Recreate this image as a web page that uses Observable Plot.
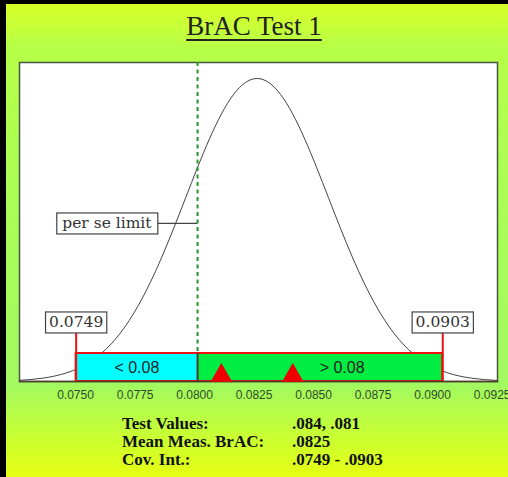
<!DOCTYPE html>
<html>
<head>
<meta charset="utf-8">
<script src="https://cdn.jsdelivr.net/npm/d3@7"></script>
<script src="https://cdn.jsdelivr.net/npm/@observablehq/plot@0.6"></script>
<style>
  html, body { margin: 0; padding: 0; }
  #wrap {
    position: relative; width: 508px; height: 477px; overflow: hidden;
    background: linear-gradient(to bottom, #dcff26 0px, #b6ff48 48px, #aaff55 200px, #a2f960 385px, #c4ff38 430px, #e6ff12 477px);
  }
  #bl { position: absolute; left: 0; top: 0; width: 6px; height: 477px; background: #000; }
  #bt { position: absolute; left: 0; top: 0; width: 508px; height: 4px; background: #000; }
  #title {
    position: absolute; left: 0; top: 11px; width: 508px; text-align: center;
    font-family: "Liberation Serif", "Times New Roman", serif; font-size: 27px;
    color: #222; text-decoration: underline; text-decoration-thickness: 1.5px; text-underline-offset: 4px;
  }
  #chart { position: absolute; left: 0; top: 0; }
  .foot {
    position: absolute; font-family: "Liberation Serif", "Times New Roman", serif;
    font-weight: bold; font-size: 17px; color: #111; white-space: nowrap; line-height: 18px;
  }
</style>
</head>
<body>
<div id="wrap">
  <div id="bl"></div><div id="bt"></div>
  <div id="title"></div>
  <div id="chart"></div>
  <div id="footL" class="foot" style="left:122px; top:415px;"></div>
  <div id="footV" class="foot" style="left:292px; top:415px;"></div>
</div>
<script>
// ---- data ----
const titleText = "BrAC Test 1";
const curveX = [0.0725,0.0730,0.0735,0.0740,0.0745,0.0750,0.0755,0.0760,0.0765,0.0770,0.0775,0.0780,0.0785,0.0790,0.0795,0.0800,0.0805,0.0810,0.0815,0.0820,0.0825,0.0830,0.0835,0.0840,0.0845,0.0850,0.0855,0.0860,0.0865,0.0870,0.0875,0.0880,0.0885,0.0890,0.0895,0.0900,0.0905,0.0910,0.0915,0.0920,0.0925,0.0930];
const curveY = [0.0039,0.0066,0.0111,0.0181,0.0286,0.0439,0.0657,0.0956,0.1353,0.1862,0.2494,0.3247,0.4111,0.5063,0.6065,0.7066,0.8007,0.8825,0.9460,0.9862,1.0000,0.9862,0.9460,0.8825,0.8007,0.7066,0.6065,0.5063,0.4111,0.3247,0.2494,0.1862,0.1353,0.0956,0.0657,0.0439,0.0286,0.0181,0.0111,0.0066,0.0039,0.0022];
const perSeLimit = 0.08;
const perSeLabel = "per se limit";
const covLow = 0.0749;
const covHigh = 0.0903;
const covLabels = ["0.0749", "0.0903"];
const rangeLabels = ["< 0.08", "> 0.08"];
const testValues = [0.084, 0.081];
const tickValues = [0.0750, 0.0775, 0.0800, 0.0825, 0.0850, 0.0875, 0.0900, 0.0925];
const footLabels = ["Test Values:", "Mean Meas. BrAC:", "Cov. Int.:"];
const footValues = [".084, .081", ".0825", ".0749 - .0903"];

// ---- build ----
document.getElementById("title").textContent = titleText;
document.getElementById("footL").innerHTML = footLabels.join("<br>");
document.getElementById("footV").innerHTML = footValues.join("<br>");

const curve = curveX.map((x, i) => ({x, y: curveY[i]}));
const segments = [
  {x1: covLow, x2: perSeLimit, label: rangeLabels[0], fill: "#00ffff"},
  {x1: perSeLimit, x2: covHigh, label: rangeLabels[1], fill: "#00ee44"}
];
const covPoints = [covLow, covHigh].map((x, i) => ({x, label: covLabels[i]}));
const rangeTextStyle = {text: "label", frameAnchor: "bottom", dy: -14, lineAnchor: "middle",
  fontFamily: "Liberation Sans, Arial, sans-serif", fontSize: 16, fill: "#222"};

const plot = Plot.plot({
  width: 508,
  height: 410,
  marginLeft: 19,
  marginRight: 11,
  marginTop: 62,
  marginBottom: 29,
  style: {background: "transparent", overflow: "visible"},
  x: {domain: [0.07252, 0.0926], axis: null},
  y: {domain: [0, 1.0528], axis: null},
  marks: [
    Plot.frame({fill: "white", stroke: "#4a554a", strokeWidth: 1.5}),
    Plot.line(curve, {x: "x", y: "y", curve: "natural", stroke: "#444", strokeWidth: 1, clip: true}),
    Plot.ruleX([perSeLimit], {stroke: "#1f9a2a", strokeWidth: 2, strokeDasharray: "4,3.5", insetBottom: 28}),
    Plot.rect(segments, {x1: "x1", x2: "x2", fill: "fill", insetTop: 291}),
    Plot.rect([segments[0]], {x1: () => covLow, x2: () => covHigh, fill: "none", stroke: "#ee1111", strokeWidth: 2, insetTop: 291}),
    Plot.frame({stroke: "#4a3a2a", strokeWidth: 1.5, anchor: "bottom"}),
    Plot.ruleX([perSeLimit], {stroke: "#5a3030", strokeWidth: 2, insetTop: 291}),
    Plot.ruleX([covLow, covHigh], {stroke: "#ee1111", strokeWidth: 2, insetTop: 270}),
    Plot.dot(testValues, {x: d => d, frameAnchor: "bottom", dy: -6, symbol: "triangle", r: 8, fill: "#ee0000", stroke: "none"}),
    Plot.text([segments[0]], {x: d => (d.x1 + d.x2) / 2, ...rangeTextStyle}),
    Plot.text([segments[1]], {x: d => (d.x1 + d.x2) / 2, dx: 22, ...rangeTextStyle}),
    Plot.text(covPoints, {x: "x", text: "label", frameAnchor: "bottom", dy: -59, lineAnchor: "middle",
      fontFamily: "DejaVu Serif, serif", fontSize: 15.5, fill: "#333", className: "boxed"}),
    Plot.text([perSeLimit], {x: d => d, text: () => perSeLabel, frameAnchor: "top", dy: 161, dx: -46, textAnchor: "end", lineAnchor: "middle",
      fontFamily: "DejaVu Serif, serif", fontSize: 15.5, fill: "#333", className: "boxed connector"}),
    Plot.axisX(tickValues, {tickSize: 0, tickPadding: 9, dx: -3, tickFormat: d3.format(".4f"), fontSize: 12,
      fontFamily: "Liberation Sans, Arial, sans-serif", fill: "#2f4a2f", label: null})
  ]
});
document.getElementById("chart").appendChild(plot);

// Boxes behind labelled texts
const svgNS = "http://www.w3.org/2000/svg";
const xScale = plot.scale("x");
plot.querySelectorAll("g.boxed").forEach(g => {
  const isConnector = g.classList.contains("connector");
  g.querySelectorAll("text").forEach(t => {
    const bb = t.getBBox();
    const m = t.getCTM();
    const padX = isConnector ? 5.5 : 3.5, padY = 1.5;
    const gx = bb.x + m.e, gy = bb.y + m.f;
    const r = document.createElementNS(svgNS, "rect");
    r.setAttribute("x", gx - padX);
    r.setAttribute("y", gy - padY);
    r.setAttribute("width", bb.width + 2 * padX);
    r.setAttribute("height", bb.height + 2 * padY);
    r.setAttribute("fill", "white");
    r.setAttribute("stroke", "#444");
    r.setAttribute("stroke-width", "1.2");
    plot.insertBefore(r, g);
    if (isConnector) {
      const l = document.createElementNS(svgNS, "line");
      const yMid = gy + bb.height / 2;
      l.setAttribute("x1", gx + bb.width + padX);
      l.setAttribute("x2", xScale.apply(perSeLimit));
      l.setAttribute("y1", yMid);
      l.setAttribute("y2", yMid);
      l.setAttribute("stroke", "#444");
      l.setAttribute("stroke-width", "1.2");
      plot.insertBefore(l, g);
    }
  });
});
</script>
</body>
</html>
